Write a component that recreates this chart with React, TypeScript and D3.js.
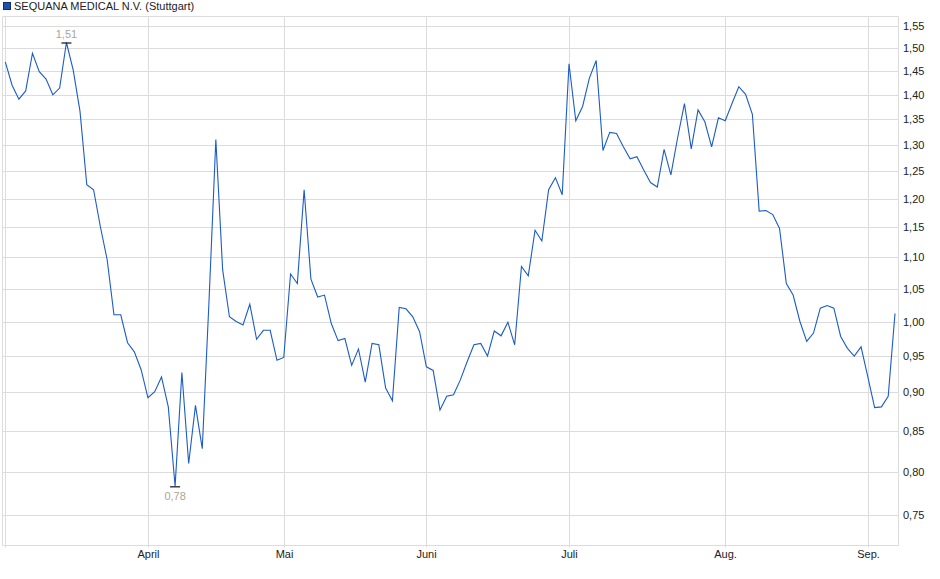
import React from "react";
import * as d3 from "d3";

const title = "SEQUANA MEDICAL N.V. (Stuttgart)";

const prices: number[] = [
  1.47, 1.42, 1.391, 1.408, 1.489, 1.449, 1.433, 1.4, 1.414, 1.513,
  1.452, 1.366, 1.225, 1.216, 1.151, 1.096, 1.01, 1.01, 0.969, 0.956,
  0.931, 0.893, 0.901, 0.921, 0.881, 0.783, 0.927, 0.81, 0.883, 0.828,
  1.032, 1.31, 1.08, 1.007, 1.0, 0.995, 1.026, 0.974, 0.987, 0.987,
  0.944, 0.948, 1.073, 1.058, 1.216, 1.065, 1.037, 1.04, 0.997, 0.972,
  0.975, 0.937, 0.96, 0.914, 0.968, 0.966, 0.906, 0.889, 1.021, 1.019,
  1.007, 0.985, 0.935, 0.93, 0.877, 0.895, 0.897, 0.917, 0.942, 0.966,
  0.968, 0.95, 0.986, 0.979, 0.999, 0.966, 1.085, 1.07, 1.145, 1.127,
  1.216, 1.238, 1.207, 1.466, 1.347, 1.376, 1.435, 1.473, 1.289, 1.324,
  1.322, 1.296, 1.273, 1.277, 1.252, 1.229, 1.221, 1.291, 1.243, 1.314,
  1.382, 1.292, 1.369, 1.345, 1.296, 1.353, 1.347, 1.382, 1.417, 1.401,
  1.36, 1.178, 1.179, 1.172, 1.148, 1.058, 1.04, 1.0, 0.971, 0.983,
  1.02, 1.024, 1.02, 0.978, 0.961, 0.95, 0.963, 0.921, 0.88, 0.881,
  0.895, 1.012,
];

const monthLabels = ["April", "Mai", "Juni", "Juli", "Aug.", "Sep."];
const monthIndex = [21, 41, 62, 83, 106, 127];
const yTicks = [0.75, 0.8, 0.85, 0.9, 0.95, 1.0, 1.05, 1.1, 1.15, 1.2, 1.25, 1.3, 1.35, 1.4, 1.45, 1.5, 1.55];

const W = 940;
const H = 579;
const left = 2.5;
const right = 898.5;
const top = 16.5;
const bottom = 545.5;

const fmt = (v: number) => v.toFixed(2).replace(".", ",");

export default function App() {
  const x = d3.scaleLinear().domain([0, prices.length - 1]).range([5.3, 895]);
  const y = d3.scaleLog().domain([0.7177, 1.5737]).range([545, 16]);
  const line = d3
    .line<number>()
    .x((_, i) => x(i))
    .y((d) => y(d));

  const maxI = d3.maxIndex(prices);
  const minI = d3.minIndex(prices);
  const grid = "#dcdcdc";
  const font = "'Liberation Sans', Arial, sans-serif";
  const annColor = "#aca497";

  return (
    <div style={{ position: "fixed", left: 0, top: 0, width: W, height: H, background: "#fff" }}>
      <svg width={W} height={H} style={{ display: "block" }} fontFamily={font}>
        {/* legend */}
        <rect x={3.5} y={2.5} width={7} height={7} fill="#1d4fae" stroke="#0d2f70" strokeWidth={1} />
        <text x={14} y={10} fontSize={11} fill="#222">{title}</text>

        {/* horizontal grid */}
        {yTicks.map((t) => (
          <g key={t}>
            <line x1={left} x2={right} y1={Math.round(y(t)) + 0.5} y2={Math.round(y(t)) + 0.5} stroke={grid} strokeWidth={1} />
            <text x={903} y={Math.round(y(t)) + 4} fontSize={11} fill="#222">{fmt(t)}</text>
          </g>
        ))}

        {/* vertical grid */}
        <line x1={Math.round(x(0)) + 0.5} x2={Math.round(x(0)) + 0.5} y1={top} y2={bottom + 2} stroke={grid} />
        {monthIndex.map((mi, k) => {
          const px = Math.round(x(mi)) + 0.5;
          return (
            <g key={k}>
              <line x1={px} x2={px} y1={top} y2={bottom + 2} stroke={grid} />
              <text x={px} y={558} fontSize={11} fill="#222" textAnchor="middle">{monthLabels[k]}</text>
            </g>
          );
        })}

        {/* frame */}
        <line x1={left} x2={right} y1={top} y2={top} stroke={grid} />
        <line x1={left} x2={right} y1={bottom} y2={bottom} stroke={grid} />
        <line x1={left} x2={left} y1={top} y2={bottom} stroke={grid} />
        <line x1={right} x2={right} y1={top} y2={bottom} stroke={grid} />

        {/* price line */}
        <path d={line(prices) || ""} fill="none" stroke="#1c5cc4" strokeWidth={1.1} />

        {/* max annotation */}
        <line x1={x(maxI) - 5} x2={x(maxI) + 5} y1={y(prices[maxI]) + 0.5} y2={y(prices[maxI]) + 0.5} stroke="#111" strokeWidth={1.2} />
        <text x={x(maxI)} y={y(prices[maxI]) - 5} fontSize={11} fill={annColor} textAnchor="middle">{fmt(prices[maxI])}</text>

        {/* min annotation */}
        <line x1={x(minI) - 5} x2={x(minI) + 5} y1={y(prices[minI]) + 0.5} y2={y(prices[minI]) + 0.5} stroke="#111" strokeWidth={1.2} />
        <text x={x(minI)} y={y(prices[minI]) + 14} fontSize={11} fill={annColor} textAnchor="middle">{fmt(prices[minI])}</text>
      </svg>
    </div>
  );
}
